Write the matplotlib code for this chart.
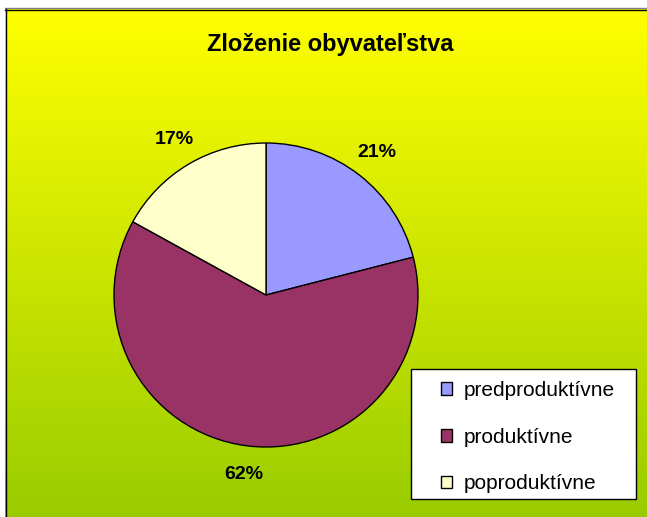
import matplotlib.pyplot as plt
import numpy as np
from matplotlib.patches import Rectangle
from matplotlib.colors import LinearSegmentedColormap

# Dáta
kategorie = ['predproduktívne', 'produktívne', 'poproduktívne']
hodnoty = [21, 62, 17]
farby = ['#9999FF', '#993366', '#FFFFCC']

plt.rcParams['font.family'] = ['Liberation Sans', 'DejaVu Sans']

W, H = 647, 517
fig = plt.figure(figsize=(W / 100, H / 100), dpi=100)

# Pozadie s prechodom zo žltej do zelenej
bg = fig.add_axes([0, 0, 1, 1])
bg.set_xlim(0, W)
bg.set_ylim(H, 0)
bg.axis('off')
cmap = LinearSegmentedColormap.from_list('yg', ['#FFFF00', '#99CC00'])
grad = np.linspace(0, 1, 256).reshape(-1, 1)
bg.imshow(grad, cmap=cmap, extent=[5, W, H, 9], aspect='auto', interpolation='bilinear')
bg.plot([5, W], [7.5, 7.5], color='#808080', lw=1)
bg.plot([5, W], [9.5, 9.5], color='black', lw=1)
bg.plot([5.5, 5.5], [9, H], color='black', lw=1)

# Nadpis
fig.text(330 / W, 1 - 51 / H, 'Zloženie obyvateľstva', ha='center', va='baseline',
         fontsize=17, fontweight='bold')

# Koláčový graf
cx, cy, r = 266, 295, 152
ax = fig.add_axes([(cx - r) / W, (H - cy - r) / H, 2 * r / W, 2 * r / H])
wedges, texts, autotexts = ax.pie(hodnoty, colors=farby, startangle=90, counterclock=False,
                                  autopct='%.0f%%', pctdistance=1.19,
                                  wedgeprops=dict(edgecolor='black', linewidth=1))
for t in autotexts:
    t.set_fontsize(14)
    t.set_fontweight('bold')
ax.set_xlim(-1, 1)
ax.set_ylim(-1, 1)
ax.set_aspect('auto')

# Legenda
bg.add_patch(Rectangle((411, 369), 225, 130, facecolor='white', edgecolor='black', lw=1, zorder=3))
leg = fig.legend(wedges, kategorie, loc='upper left',
                 bbox_to_anchor=(441 / W, 1 - 381 / H), frameon=False,
                 fontsize=15, handlelength=0.55, handleheight=0.55,
                 handletextpad=0.55, labelspacing=1.33,
                 borderaxespad=0, borderpad=0)
for h in leg.legend_handles:
    h.set_linewidth(1)
    h.set_edgecolor('black')

fig.savefig('out.png', dpi=100)
